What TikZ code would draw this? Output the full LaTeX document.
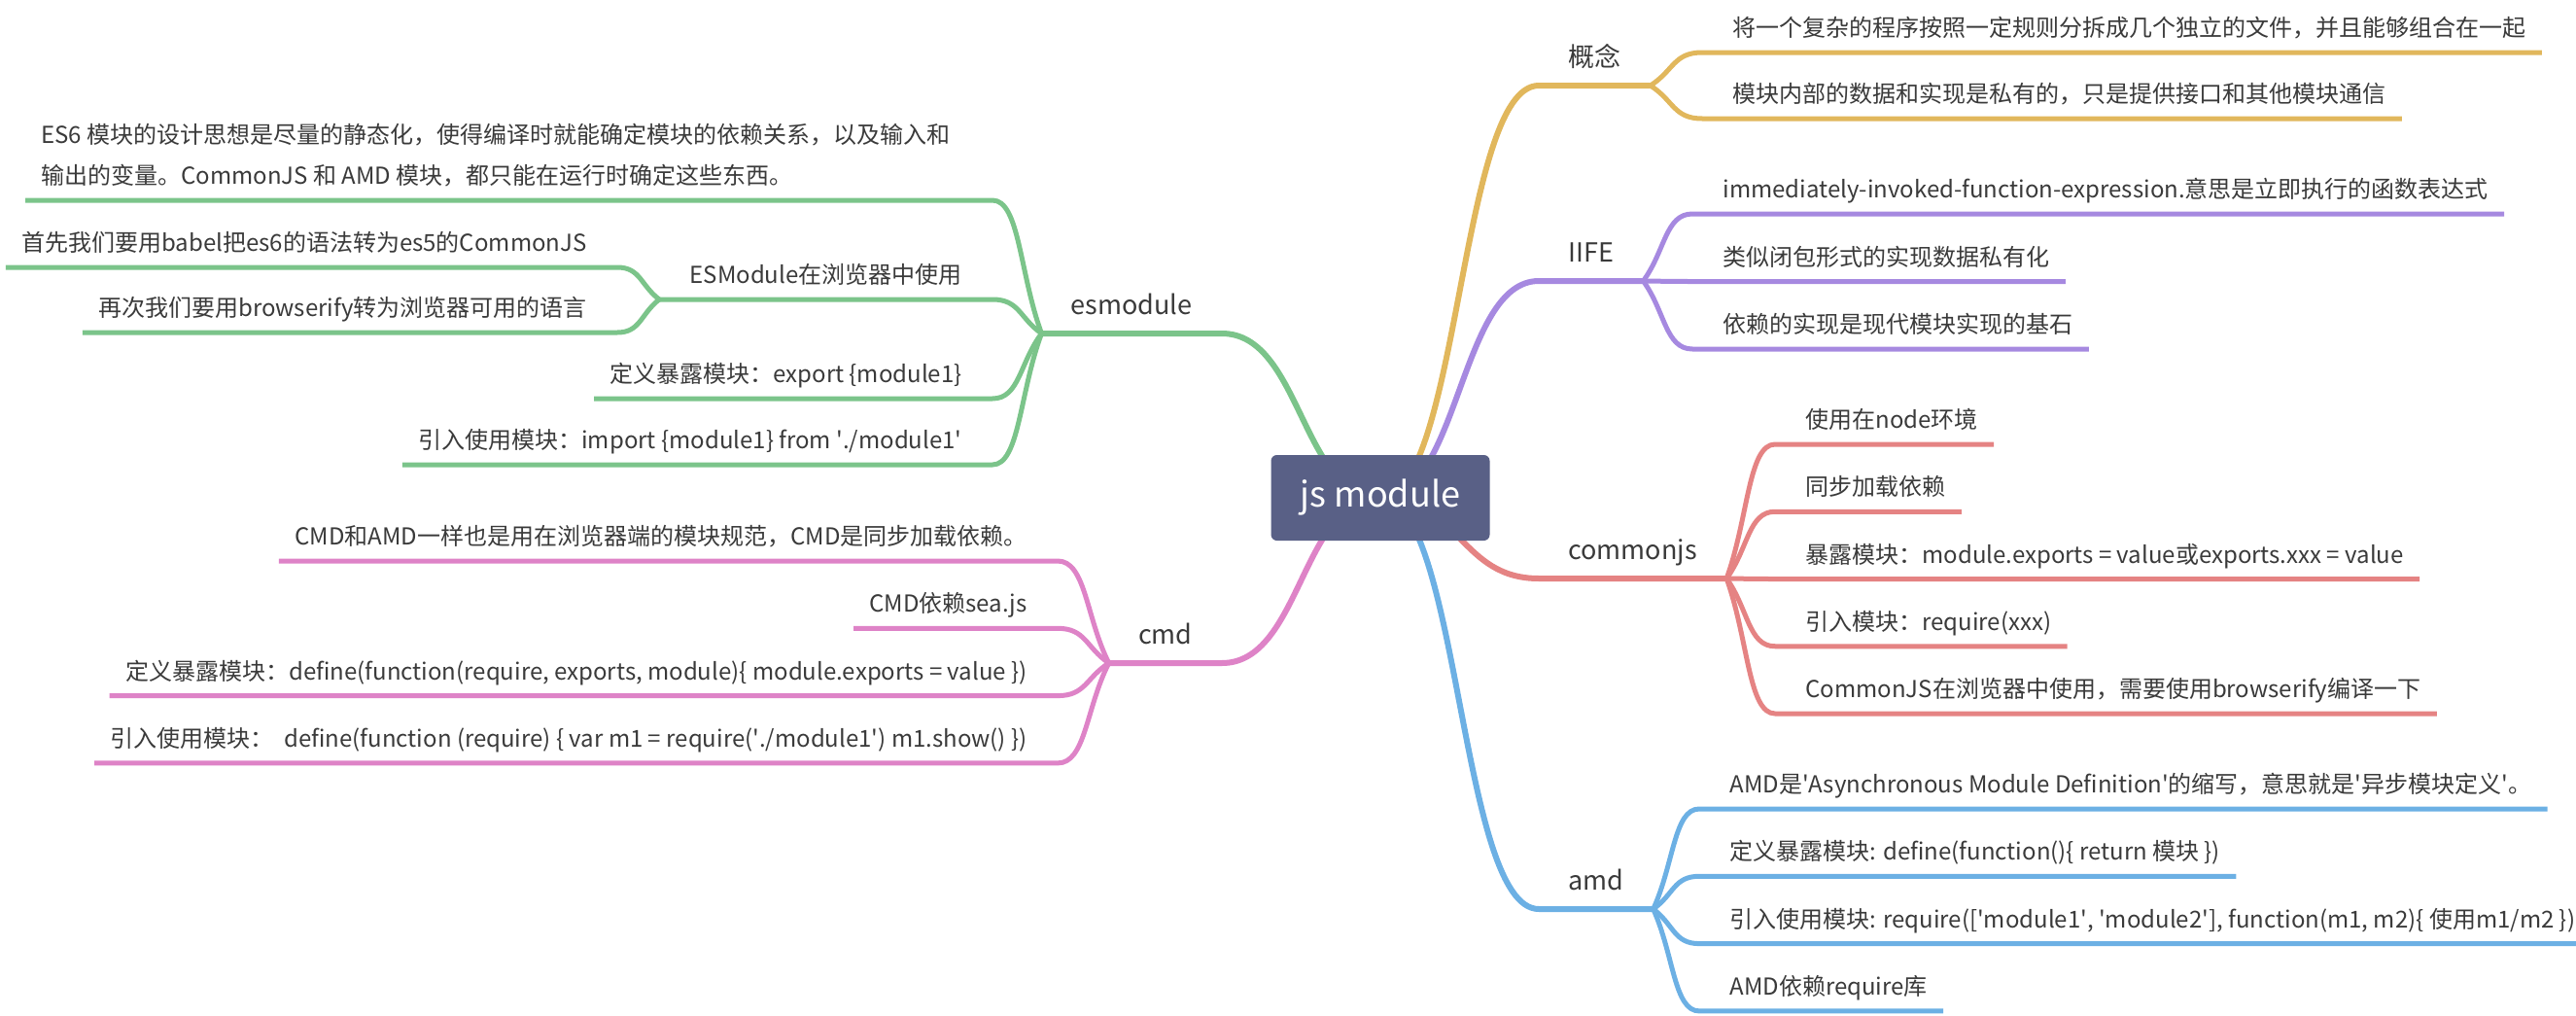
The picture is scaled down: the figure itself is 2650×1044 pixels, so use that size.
\documentclass[tikz,border=0pt]{standalone}
\usepackage{fontspec}
\setmainfont{Noto Sans CJK SC}
\usetikzlibrary{calc}

\definecolor{ink}{HTML}{3A3A3A}
\definecolor{rootfill}{HTML}{596086}
\definecolor{brgold}{HTML}{E1B75C}
\definecolor{brpurple}{HTML}{A689E0}
\definecolor{brred}{HTML}{E58383}
\definecolor{brblue}{HTML}{6CB0E4}
\definecolor{brgreen}{HTML}{7BC48A}
\definecolor{brpink}{HTML}{DE83C7}
\newcommand{\sq}{\textquotesingle}

\begin{document}
\begin{tikzpicture}[x=0.5pt, y=-0.5pt,
            line join=round,
            every node/.style = {text=ink},
            rootbox/.style = {fill=rootfill,text=white,rounded corners=3pt,
                minimum width=112.5pt,minimum height=44pt,
                font=\fontsize{18}{22}\selectfont},
            topic/.style = {inner xsep=15pt,inner ysep=9.5pt,text depth=0pt,
                font=\fontsize{13.5}{16}\selectfont},
            leaf/.style = {inner xsep=8pt,inner ysep=8pt,text depth=0pt,
                font=\fontsize{12}{21}\selectfont},
            subtopic/.style = {leaf,inner xsep=15.5pt},
            trunk/.style = {line width=3pt,to path={.. controls
                ($(\tikztostart)!.5!(\tikztostart-|\tikztotarget)$) and
                ($(\tikztotarget)!.5!(\tikztostart|-\tikztotarget)$) .. (\tikztotarget)}},
            twig/.style = {line width=2.5pt,to path={.. controls
                ($(\tikztostart)!.45!(\tikztotarget)$) and
                ($(\tikztotarget)!.55!(\tikztostart|-\tikztotarget)$) .. (\tikztotarget)}}]
            \useasboundingbox (0,0) rectangle (2650,1044);
            \coordinate (hub) at (1420,512);

            % main topics
            \node[topic,anchor=south west] (gn) at (1583,88) {概念};
            \node[topic,anchor=south west] (iife) at (1583,289) {IIFE};
            \node[topic,anchor=south west] (cjs) at (1583,595) {commonjs};
            \node[topic,anchor=south west] (amd) at (1583,935) {amd};
            \node[topic,anchor=south east] (esm) at (1257,343) {esmodule};
            \node[topic,anchor=south east] (cmd) at (1257,682) {cmd};
            \draw[trunk,brgold] (hub) to (gn.south west) -- (gn.south east);
            \draw[trunk,brpurple] (hub) to (iife.south west) -- (iife.south east);
            \draw[trunk,brred] (hub) to (cjs.south west) -- (cjs.south east);
            \draw[trunk,brblue] (hub) to (amd.south west) -- (amd.south east);
            \draw[trunk,brgreen] (hub) to (esm.south east) -- (esm.south west);
            \draw[trunk,brpink] (hub) to (cmd.south east) -- (cmd.south west);

            % 概念
            \foreach \t [count=\i] in
                {{将一个复杂的程序按照一定规则分拆成几个独立的文件，并且能够组合在一起},
                 {模块内部的数据和实现是私有的，只是提供接口和其他模块通信}} {
                \pgfmathsetmacro\ly{54+68*(\i-1)}
                \node[leaf,anchor=south west] (gn\i) at (1766,\ly) {\t};
                \coordinate (gx\i) at ([xshift=-7.5pt]gn\i.south west);
                \draw[twig,brgold] (gn.south east) to (gx\i) -- (gn\i.south east);
            }
            % IIFE
            \foreach \t [count=\i] in
                {{immediately-invoked-function-expression.意思是立即执行的函数表达式},
                 {类似闭包形式的实现数据私有化},
                 {依赖的实现是现代模块实现的基石}} {
                \pgfmathsetmacro\ly{220+69.5*(\i-1)}
                \node[leaf,anchor=south west] (if\i) at (1756,\ly) {\t};
                \coordinate (ix\i) at ([xshift=-7.5pt]if\i.south west);
                \draw[twig,brpurple] (iife.south east) to (ix\i) -- (if\i.south east);
            }
            % commonjs
            \foreach \t [count=\i] in
                {{使用在node环境},
                 {同步加载依赖},
                 {暴露模块：module.exports = value或exports.xxx = value},
                 {引入模块：require(xxx)},
                 {CommonJS在浏览器中使用，需要使用browserify编译一下}} {
                \pgfmathsetmacro\ly{457+69.25*(\i-1)}
                \node[leaf,anchor=south west] (cj\i) at (1841,\ly) {\t};
                \coordinate (cx\i) at ([xshift=-7.5pt]cj\i.south west);
                \draw[twig,brred] (cjs.south east) to (cx\i) -- (cj\i.south east);
            }
            % amd
            \foreach \t [count=\i] in
                {{AMD是\sq Asynchronous Module Definition\sq 的缩写，意思就是\sq 异步模块定义\sq 。},
                 {定义暴露模块: define(function()\{ return 模块 \})},
                 {引入使用模块: require([\sq module1\sq, \sq module2\sq], function(m1, m2)\{ 使用m1/m2 \})},
                 {AMD依赖require库}} {
                \pgfmathsetmacro\ly{832+69.3*(\i-1)}
                \node[leaf,anchor=south west] (am\i) at (1763,\ly) {\t};
                \coordinate (ax\i) at ([xshift=-7.5pt]am\i.south west);
                \draw[twig,brblue] (amd.south east) to (ax\i) -- (am\i.south east);
            }
            % cmd
            \foreach \t [count=\i] in
                {{CMD和AMD一样也是用在浏览器端的模块规范，CMD是同步加载依赖。},
                 {CMD依赖sea.js},
                 {定义暴露模块：define(function(require, exports, module)\{ module.exports = value \})},
                 {引入使用模块：\ \ define(function (require) \{ var m1 = require(\sq./module1\sq) m1.show() \})}} {
                \pgfmathsetmacro\ly{577+69.3*(\i-1)}
                \node[leaf,anchor=south east] (cm\i) at (1073,\ly) {\t};
                \coordinate (px\i) at ([xshift=7.5pt]cm\i.south east);
                \draw[twig,brpink] (cmd.south west) to (px\i) -- (cm\i.south west);
            }
            % esmodule
            \node[leaf,anchor=south west] (es1) at (26,206)
                {\begin{tabular}[b]{@{}l@{}}
                ES6 模块的设计思想是尽量的静态化，使得编译时就能确定模块的依赖关系，以及输入和\\
                输出的变量。CommonJS 和 AMD 模块，都只能在运行时确定这些东西。
                \end{tabular}};
            \coordinate (ex1) at (1021,206);
            \node[subtopic,anchor=south east] (es2) at (1021,308) {ESModule在浏览器中使用};
            \node[leaf,anchor=south east] (es3) at (1006,410) {定义暴露模块：export \{module1\}};
            \node[leaf,anchor=south east] (es4) at (1006,478)
                {引入使用模块：import \{module1\} from \sq./module1\sq};
            \coordinate (ex3) at ([xshift=7.5pt]es3.south east);
            \coordinate (ex4) at ([xshift=7.5pt]es4.south east);
            \draw[twig,brgreen] (esm.south west) to (ex1) -- (es1.south west);
            \draw[twig,brgreen] (esm.south west) to (es2.south east) -- (es2.south west);
            \draw[twig,brgreen] (esm.south west) to (ex3) -- (es3.south west);
            \draw[twig,brgreen] (esm.south west) to (ex4) -- (es4.south west);
            % ESModule在浏览器中使用
            \node[leaf,anchor=south east] (bw1) at (620,275)
                {首先我们要用babel把es6的语法转为es5的CommonJS};
            \node[leaf,anchor=south east] (bw2) at (620,342)
                {再次我们要用browserify转为浏览器可用的语言};
            \coordinate (bx1) at ([xshift=7.5pt]bw1.south east);
            \coordinate (bx2) at ([xshift=7.5pt]bw2.south east);
            \draw[twig,brgreen] (es2.south west) to (bx1) -- (bw1.south west);
            \draw[twig,brgreen] (es2.south west) to (bx2) -- (bw2.south west);

            \node[rootbox] (root) at (hub) {js module};
        \end{tikzpicture}
\end{document}
